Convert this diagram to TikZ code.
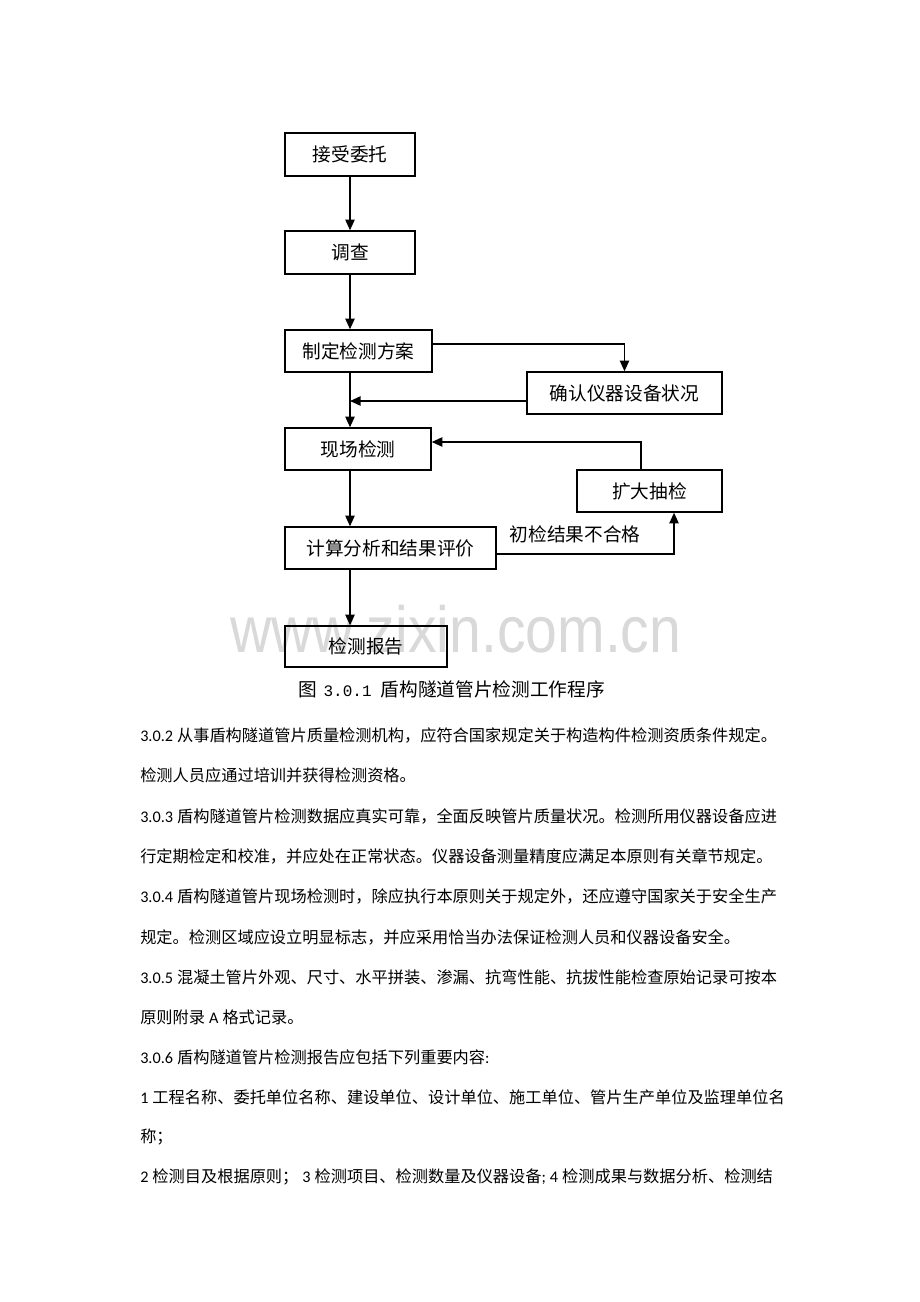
\documentclass[tikz,border=0pt]{standalone}
\usepackage{fontspec}
\setmainfont{Noto Sans CJK SC}
\newfontfamily\latf{Carlito}
\newfontfamily\wmf{Liberation Sans}
\newfontfamily\monof{Liberation Mono}
\usetikzlibrary{arrows.meta}
\newcommand\La[1]{{\latf #1}}
\newcommand\fixsp{\hspace*{3pt}}
\newcommand\fullline[1]{\XeTeXlinebreaklocale "zh"\XeTeXlinebreakskip=0pt plus 3pt minus 0.5pt\hbox to 480pt{#1}}
\begin{document}
\begin{tikzpicture}[x=0.75pt,y=-0.75pt,
  box/.style={draw, line width=1.1pt, inner sep=0pt, font=\fontsize{14}{16}\selectfont},
  arr/.style={line width=1.1pt, -{Triangle[length=8pt,width=7pt]}},
  body/.style={anchor=west, inner sep=0pt, font=\fontsize{12.16}{14}\selectfont}]
\useasboundingbox[fill=white] (0,0) rectangle (920,1302);
% watermark
\node[anchor=base west, inner sep=0pt, text=black!15, font=\fontsize{49}{49}\selectfont\wmf] (wm) at (230,652) {\scalebox{0.875}[1]{www.zixin.com.cn}};
\coordinate (mx) at (350,0);
% boxes
\node[box, minimum width=97.5pt, minimum height=32.25pt] (a) at (350,154.5) {接受委托};
\node[box, minimum width=97.5pt, minimum height=32.25pt] (b) at (350,252.5) {调查};
\node[box, minimum width=110.25pt, minimum height=31.5pt] (c) at (358.5,351) {制定检测方案};
\node[box, minimum width=146.25pt, minimum height=31.5pt] (d) at (624.5,393) {确认仪器设备状况};
\node[box, minimum width=109.5pt, minimum height=31.5pt] (e) at (358,449) {现场检测};
\node[box, minimum width=108.75pt, minimum height=31.5pt] (f) at (649.5,491) {扩大抽检};
\node[box, minimum width=158.25pt, minimum height=31.5pt] (g) at (390.5,548) {计算分析和结果评价};
\node[box, minimum width=121.5pt, minimum height=30.75pt] (h) at (366,646.5) {检测报告};
% arrows
\draw[arr] (a.south) -- (b.north);
\draw[arr] (b.south) -- (b.south |- c.north);
\draw[arr] (c.south -| mx) -- (e.north -| mx);
\draw[arr] ([yshift=5.25pt]c.east) -| (d.north);
\draw[arr] ([yshift=-6pt]d.west) -- ([yshift=-6pt]d.west -| mx);
\draw[arr] ([xshift=-6.4pt]f.north) |- ([yshift=5.25pt]e.east);
\draw[arr] (e.south -| mx) -- (g.north -| mx);
\draw[arr] ([yshift=-4.5pt]g.east) -| ([xshift=18.4pt]f.south);
\draw[arr] (g.south -| mx) -- (h.north -| mx);
\node[inner sep=0pt, font=\fontsize{14}{16}\selectfont] (lbl) at (575,534) {初检结果不合格};
% caption
\node[anchor=west, inner sep=0pt, font=\fontsize{14}{16}\selectfont] (cap) at (298,689) {图\hspace*{5pt}{\monof\fontsize{12}{14}\selectfont 3.0.1}\hspace*{7pt}盾构隧道管片检测工作程序};
% body text
\node[body] (l1) at (140,735) {\fullline{\La{3.0.2}\fixsp 从事盾构隧道管片质量检测机构，应符合国家规定关于构造构件检测资质条件规定。}};
\node[body] (l2) at (140,775) {检测人员应通过培训并获得检测资格。};
\node[body] (l3) at (140,816) {\fullline{\La{3.0.3}\fixsp 盾构隧道管片检测数据应真实可靠，全面反映管片质量状况。检测所用仪器设备应进}};
\node[body] (l4) at (140,856) {行定期检定和校准，并应处在正常状态。仪器设备测量精度应满足本原则有关章节规定。};
\node[body] (l5) at (140,896) {\fullline{\La{3.0.4}\fixsp 盾构隧道管片现场检测时，除应执行本原则关于规定外，还应遵守国家关于安全生产}};
\node[body] (l6) at (140,937) {规定。检测区域应设立明显标志，并应采用恰当办法保证检测人员和仪器设备安全。};
\node[body] (l7) at (140,977) {\fullline{\La{3.0.5}\fixsp 混凝土管片外观、尺寸、水平拼装、渗漏、抗弯性能、抗拔性能检查原始记录可按本}};
\node[body] (l8) at (140,1017) {原则附录\fixsp\La{A}\fixsp 格式记录。};
\node[body] (l9) at (140,1057) {\La{3.0.6}\fixsp 盾构隧道管片检测报告应包括下列重要内容\La{:}};
\node[body] (l10) at (140,1097) {\fullline{\La{1}\fixsp 工程名称、委托单位名称、建设单位、设计单位、施工单位、管片生产单位及监理单位名}};
\node[body] (l11) at (140,1137) {称；};
\node[body] (l12) at (140,1177) {\fullline{\La{2}\fixsp 检测目及根据原则；\fixsp\La{3}\fixsp 检测项目、检测数量及仪器设备\La{;}\fixsp\La{4}\fixsp 检测成果与数据分析、检测结}};
\end{tikzpicture}
\end{document}
